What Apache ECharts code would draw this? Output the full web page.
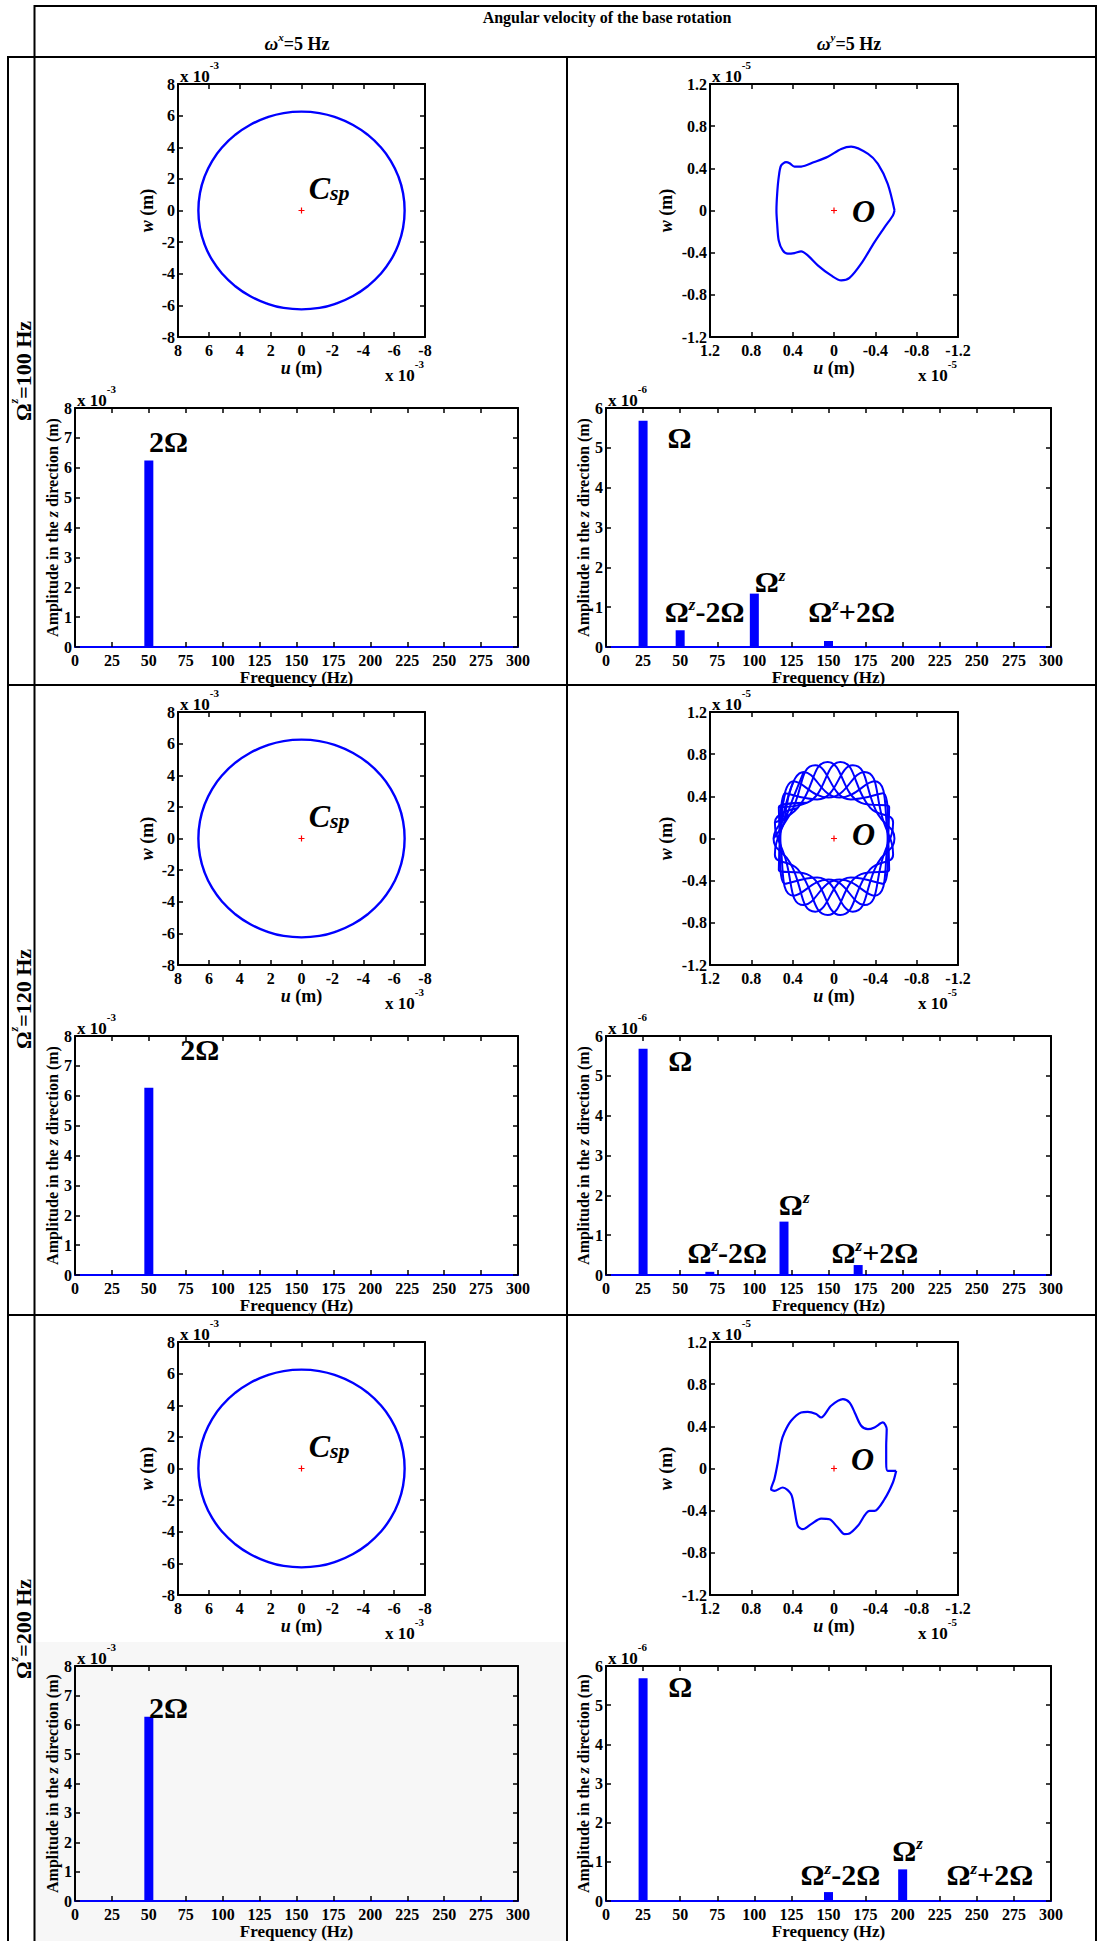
<!DOCTYPE html>
<html lang="en">
<head>
<meta charset="utf-8">
<title>Orbits and z-direction spectra under base rotation</title>
<script src="https://cdn.jsdelivr.net/npm/echarts@6/dist/echarts.min.js"></script>
<style>
  html, body { margin: 0; padding: 0; background: #ffffff; }
  #chart { width: 1098px; height: 1941px; }
</style>
</head>
<body>
<div id="chart"></div>
<script>
// ---------------- values ----------------
// Ω^z of each table row (Hz)
const spinSpeeds = [100, 120, 200];

// Axis ranges [min, max, step]
const orbitXRange = [-8, 8, 2];        // ×10^-3 m (ωx column)
const orbitYRange = [-1.2, 1.2, 0.4];  // ×10^-5 m (ωy column)
const freqRange = [0, 300, 25];        // Hz
const ampXRange = [0, 8, 1];           // ×10^-3 m
const ampYRange = [0, 6, 1];           // ×10^-6 m

// ωx = 5 Hz: orbit (u, w), ×10^-3 m; the same ring at all three spin speeds
const orbitCircleX = [
  [6.68, 0], [6.58, 1.09], [6.28, 2.14], [5.79, 3.13], [5.12, 4.02], [4.29, 4.79], [3.34, 5.41],
  [2.28, 5.87], [1.16, 6.16], [0, 6.25], [-1.16, 6.16], [-2.28, 5.87], [-3.34, 5.41], [-4.29, 4.79],
  [-5.12, 4.02], [-5.79, 3.13], [-6.28, 2.14], [-6.58, 1.09], [-6.68, 0], [-6.58, -1.09], [-6.28, -2.14],
  [-5.79, -3.13], [-5.12, -4.02], [-4.29, -4.79], [-3.34, -5.41], [-2.28, -5.87], [-1.16, -6.16],
  [0, -6.25], [1.16, -6.16], [2.28, -5.87], [3.34, -5.41], [4.29, -4.79], [5.12, -4.02], [5.79, -3.13],
  [6.28, -2.14], [6.58, -1.09], [6.68, 0], [6.58, 1.09]
];

// ωy = 5 Hz, Ω^z = 100 Hz: orbit (u, w), ×10^-5 m
const orbitY100 = [
  [-0.586, 0.0], [-0.52, 0.253], [-0.425, 0.442], [-0.33, 0.537], [-0.166, 0.606], [-0.07, 0.584],
  [0.06, 0.51], [0.19, 0.46], [0.318, 0.417], [0.383, 0.417], [0.43, 0.449], [0.464, 0.458],
  [0.512, 0.426], [0.535, 0.316], [0.55, 0.158], [0.557, 0.0], [0.55, -0.126], [0.535, -0.284],
  [0.496, -0.379], [0.447, -0.41], [0.383, -0.404], [0.318, -0.388], [0.254, -0.426], [0.157, -0.52],
  [0.028, -0.616], [-0.07, -0.663], [-0.15, -0.64], [-0.263, -0.505], [-0.392, -0.3], [-0.49, -0.158],
  [-0.57, -0.047], [-0.586, 0.0]
];

// ωy = 5 Hz, Ω^z = 120 Hz: the orbit winds round six times, swinging between
// the inner and outer edge of the band (×10^-5 m)
const orbitY120 = [
  [[0.585, 0], [0.425, 0.229], [0.181, 0.694], [-0.162, 0.371], [-0.473, 0.429], [-0.525, 0],
   [-0.473, -0.429], [-0.162, -0.371], [0.181, -0.694], [0.425, -0.229], [0.585, 0], [0.425, 0.229]],
  [[0.572, 0.152], [0.351, 0.290], [0.061, 0.726], [-0.263, 0.338], [-0.534, 0.297], [-0.514, -0.081],
   [-0.391, -0.542], [-0.055, -0.388], [0.293, -0.632], [0.480, -0.159], [0.572, 0.152], [0.351, 0.290]],
  [[0.534, 0.297], [0.263, 0.338], [-0.061, 0.726], [-0.351, 0.290], [-0.572, 0.152], [-0.480, -0.159],
   [-0.293, -0.632], [0.055, -0.388], [0.391, -0.542], [0.514, -0.081], [0.534, 0.297], [0.263, 0.338]],
  [[0.525, 0], [0.473, 0.429], [0.162, 0.371], [-0.181, 0.694], [-0.425, 0.229], [-0.585, 0],
   [-0.425, -0.229], [-0.181, -0.694], [0.162, -0.371], [0.473, -0.429], [0.525, 0], [0.473, 0.429]],
  [[0.514, 0.081], [0.391, 0.542], [0.055, 0.388], [-0.293, 0.632], [-0.480, 0.159], [-0.572, -0.152],
   [-0.351, -0.290], [-0.061, -0.726], [0.263, -0.338], [0.534, -0.297], [0.514, 0.081], [0.391, 0.542]],
  [[0.480, 0.159], [0.293, 0.632], [-0.055, 0.388], [-0.391, 0.542], [-0.514, 0.081], [-0.534, -0.297],
   [-0.263, -0.338], [0.061, -0.726], [0.351, -0.290], [0.572, -0.152], [0.480, 0.159], [0.293, 0.632]]
];

// ωy = 5 Hz, Ω^z = 200 Hz: orbit (u, w), ×10^-5 m
const orbitY200 = [
  [-0.602, -0.022], [-0.52, -0.022], [-0.505, 0.057], [-0.505, 0.215], [-0.51, 0.373], [-0.473, 0.437],
  [-0.392, 0.39], [-0.328, 0.373], [-0.263, 0.405], [-0.2, 0.532], [-0.15, 0.627], [-0.086, 0.658],
  [0.028, 0.595], [0.125, 0.484], [0.173, 0.516], [0.254, 0.538], [0.318, 0.532], [0.415, 0.453],
  [0.48, 0.342], [0.512, 0.247], [0.544, 0.057], [0.577, -0.101], [0.609, -0.196], [0.577, -0.212],
  [0.496, -0.18], [0.415, -0.244], [0.383, -0.386], [0.35, -0.544], [0.302, -0.576], [0.221, -0.528],
  [0.125, -0.475], [0.044, -0.481], [-0.037, -0.56], [-0.102, -0.623], [-0.15, -0.617], [-0.231, -0.544],
  [-0.344, -0.402], [-0.392, -0.402], [-0.489, -0.291], [-0.57, -0.133], [-0.602, -0.022]
];

// Shaft centre / origin marker
const orbitCentre = [0, 0];

// Amplitude spectra in the z direction: [frequency Hz, amplitude]
const specX100 = [[50, 6.24]];   // ×10^-3 m
const specX120 = [[50, 6.27]];
const specX200 = [[50, 6.27]];
const specY100 = [[25, 5.68], [50, 0.42], [100, 1.34], [150, 0.15]];   // ×10^-6 m
const specY120 = [[25, 5.68], [70, 0.08], [120, 1.34], [170, 0.25]];
const specY200 = [[25, 5.69], [150, 0.23], [200, 0.81]];

// Peak names: [text, frequency, amplitude]; ^ marks a superscript, _ a subscript
const notesX100 = [['2Ω', 49.7, 6.87]];
const notesX120 = [['2Ω', 71, 7.55]];
const notesX200 = [['2Ω', 49.7, 6.58]];
const notesY100 = [['Ω', 41.1, 5.25], ['Ω^z-2Ω', 39.3, 0.9], ['Ω^z', 100, 1.64], ['Ω^z+2Ω', 136, 0.9]];
const notesY120 = [['Ω', 41.6, 5.39], ['Ω^z-2Ω', 54.6, 0.57], ['Ω^z', 116.2, 1.78], ['Ω^z+2Ω', 151.7, 0.57]];
const notesY200 = [['Ω', 41.6, 5.48], ['Ω^z-2Ω', 130.8, 0.67], ['Ω^z', 192.6, 1.3], ['Ω^z+2Ω', 229.2, 0.67]];

// Point names inside the orbit plots: [text, u, w]
const centreNoteX = [['C_sp', -0.43, 1.45]];
const centreNotesY = [[['O', -0.17, 0.0]], [['O', -0.17, 0.04]], [['O', -0.16, 0.086]]];

// ---------------- drawing ----------------
const SERIF = '"Liberation Serif", "Times New Roman", serif';
const BLUE = '#0000ff';
const BLACK = '#000000';

const layout = {
  rowTops: [57, 685, 1315],
  rowHeight: 628,
  orbitL: { left: 178, top: 27, width: 247, height: 253, yNameGap: 22 },
  orbitR: { left: 710, top: 27, width: 248, height: 253, yNameGap: 35 },
  specL: { left: 75, top: 351, width: 443, height: 239, yNameGap: 15 },
  specR: { left: 606, top: 351, width: 445, height: 239, yNameGap: 13 }
};

const option = {
  animation: false,
  backgroundColor: '#ffffff',
  grid: [], xAxis: [], yAxis: [], series: [],
  graphic: { elements: [] }
};
const G = option.graphic.elements;

const tickLabel = { fontFamily: SERIF, fontWeight: 'bold', fontSize: 16, color: BLACK };
const innerTick = { show: true, inside: true, length: 5, lineStyle: { color: BLACK, width: 1.5 } };
const fmtInt = v => String(Math.round(v));
const fmtTenth = v => { const r = Math.round(v * 10) / 10; return r === 0 ? '0' : String(r); };

function nameStyle(size) {
  return {
    fontFamily: SERIF, fontWeight: 'bold', fontSize: size, color: BLACK,
    rich: { i: { fontFamily: SERIF, fontWeight: 'bold', fontStyle: 'italic', fontSize: size, color: BLACK } }
  };
}

function addPanel(box, rowTop, c) {
  const gridIndex = option.grid.length;
  option.grid.push({ left: box.left, top: rowTop + box.top, width: box.width, height: box.height, show: false });
  const xi = option.xAxis.length;
  const yi = option.yAxis.length;
  const frame = color => ({ show: true, onZero: false, lineStyle: { color: color, width: 2 } });
  option.xAxis.push({
    gridIndex, type: 'value', position: 'bottom', min: c.x[0], max: c.x[1], interval: c.x[2], inverse: !!c.xInverse,
    axisLine: frame(c.base || BLACK), axisTick: innerTick, splitLine: { show: false },
    axisLabel: Object.assign({ margin: 5, formatter: c.fmtX }, tickLabel),
    name: c.xName, nameLocation: 'middle', nameGap: c.xNameGap, nameTextStyle: nameStyle(c.xNameSize)
  });
  option.xAxis.push({
    gridIndex, type: 'value', position: 'top', min: c.x[0], max: c.x[1], interval: c.x[2], inverse: !!c.xInverse,
    axisLine: frame(BLACK), axisTick: innerTick, splitLine: { show: false }, axisLabel: { show: false }
  });
  option.yAxis.push({
    gridIndex, type: 'value', position: 'left', min: c.y[0], max: c.y[1], interval: c.y[2],
    axisLine: frame(BLACK), axisTick: innerTick, splitLine: { show: false },
    axisLabel: Object.assign({ margin: 3, formatter: c.fmtY }, tickLabel),
    name: c.yName, nameLocation: 'middle', nameGap: box.yNameGap, nameTextStyle: nameStyle(c.yNameSize)
  });
  option.yAxis.push({
    gridIndex, type: 'value', position: 'right', min: c.y[0], max: c.y[1], interval: c.y[2],
    axisLine: frame(BLACK), axisTick: innerTick, splitLine: { show: false }, axisLabel: { show: false }
  });
  return { xi, yi };
}

function markup(t, base) {
  let out = '';
  t.replace(/([\^_])([A-Za-z]+)|([^\^_]+)/g, (m, mark, word, plain) => {
    out += plain ? '{' + base + '|' + plain + '}' : '{' + (mark === '^' ? 'sup' : 'sub') + '|' + word + '}';
    return m;
  });
  return out;
}

function noteRich(size) {
  const f = (extra) => Object.assign({ fontFamily: SERIF, fontWeight: 'bold', color: BLACK, textBorderWidth: 0, opacity: 1 }, extra);
  return {
    b: f({ fontSize: size, lineHeight: size, verticalAlign: 'bottom' }),
    c: f({ fontSize: size, lineHeight: size, verticalAlign: 'bottom', fontStyle: 'italic' }),
    sup: f({ fontSize: Math.round(size * 0.55), lineHeight: Math.round(size * 0.55), verticalAlign: 'top', fontStyle: 'italic' }),
    sub: f({ fontSize: Math.round(size * 0.68), lineHeight: Math.round(size * 0.58), verticalAlign: 'bottom', fontStyle: 'italic' })
  };
}

function addNotes(ax, notes, size, base) {
  option.series.push({
    type: 'scatter', xAxisIndex: ax.xi, yAxisIndex: ax.yi, silent: true, z: 6,
    symbolSize: 1, itemStyle: { color: 'rgba(0,0,0,0)', opacity: 1 },
    data: notes.map(n => ({ value: [n[1], n[2]], name: n[0] })),
    label: {
      show: true, position: 'right', distance: 0, color: BLACK, opacity: 1, textBorderWidth: 0,
      formatter: p => markup(p.name, base), rich: noteRich(size)
    }
  });
}

function addCentre(ax) {
  option.series.push({
    type: 'scatter', xAxisIndex: ax.xi, yAxisIndex: ax.yi, silent: true, z: 5,
    symbol: 'path://M0.4,0H0.6V0.4H1V0.6H0.6V1H0.4V0.6H0V0.4H0.4Z', symbolSize: 6,
    itemStyle: { color: '#ff0000', opacity: 1 }, data: [orbitCentre]
  });
}

function addPath(ax, path, smooth, width) {
  option.series.push({
    type: 'line', xAxisIndex: ax.xi, yAxisIndex: ax.yi, data: path, symbol: 'none', smooth: smooth,
    lineStyle: { color: BLUE, width: width }, z: 3, silent: true
  });
}

function addBars(ax, data) {
  option.series.push({
    type: 'bar', xAxisIndex: ax.xi, yAxisIndex: ax.yi, data: data, barWidth: 9,
    itemStyle: { color: BLUE }, z: 3, silent: true
  });
}

function multiplier(x, yMid, exp, align) {
  G.push({
    type: 'text', x: x, y: yMid - 4, z: 10,
    style: {
      text: '{m|x 10}{e|' + exp + '}', align: align, verticalAlign: 'middle', fill: BLACK,
      rich: {
        m: { fontFamily: SERIF, fontWeight: 'bold', fontSize: 17, lineHeight: 26, verticalAlign: 'bottom', fill: BLACK },
        e: { fontFamily: SERIF, fontWeight: 'bold', fontSize: 11, lineHeight: 12, verticalAlign: 'top', fill: BLACK }
      }
    }
  });
}

const orbitsY = [[orbitY100], orbitY120, [orbitY200]];
const specsX = [specX100, specX120, specX200];
const specsY = [specY100, specY120, specY200];
const notesX = [notesX100, notesX120, notesX200];
const notesY = [notesY100, notesY120, notesY200];

// light shading behind the last left-hand spectrum
G.push({ type: 'rect', z: -5, shape: { x: 35.5, y: 1642, width: 530.5, height: 299 }, style: { fill: '#f7f7f7' } });

layout.rowTops.forEach((top, r) => {
  // ωx column: orbit
  const oL = addPanel(layout.orbitL, top, {
    x: orbitXRange, y: orbitXRange, xInverse: true, fmtX: fmtInt, fmtY: fmtInt,
    xName: '{i|u} (m)', xNameGap: 22, xNameSize: 18, yName: '{i|w} (m)', yNameSize: 18
  });
  addPath(oL, orbitCircleX, true, 2.4);
  addCentre(oL);
  addNotes(oL, centreNoteX, 32, 'c');

  // ωy column: orbit
  const oR = addPanel(layout.orbitR, top, {
    x: orbitYRange, y: orbitYRange, xInverse: true, fmtX: fmtTenth, fmtY: fmtTenth,
    xName: '{i|u} (m)', xNameGap: 22, xNameSize: 18, yName: '{i|w} (m)', yNameSize: 18
  });
  orbitsY[r].forEach(p => addPath(oR, p, r === 1 ? 0.5 : 0.3, r === 1 ? 2 : 2.2));
  addCentre(oR);
  addNotes(oR, centreNotesY[r], 32, 'c');

  // ωx column: spectrum
  const sL = addPanel(layout.specL, top, {
    x: freqRange, y: ampXRange, fmtX: fmtInt, fmtY: fmtInt, base: BLUE,
    xName: 'Frequency (Hz)', xNameGap: 20, xNameSize: 17,
    yName: 'Amplitude in the {i|z} direction (m)', yNameSize: 16
  });
  addBars(sL, specsX[r]);
  addNotes(sL, notesX[r], 30, 'b');

  // ωy column: spectrum
  const sR = addPanel(layout.specR, top, {
    x: freqRange, y: ampYRange, fmtX: fmtInt, fmtY: fmtInt, base: BLUE,
    xName: 'Frequency (Hz)', xNameGap: 20, xNameSize: 17,
    yName: 'Amplitude in the {i|z} direction (m)', yNameSize: 16
  });
  addBars(sR, specsY[r]);
  addNotes(sR, notesY[r], 30, 'b');

  // scale multipliers
  const L = layout;
  multiplier(L.orbitL.left + 2, top + L.orbitL.top - 8, '-3', 'left');
  multiplier(L.orbitL.left + L.orbitL.width - 1, top + L.orbitL.top + L.orbitL.height + 38, '-3', 'right');
  multiplier(L.orbitR.left + 2, top + L.orbitR.top - 8, '-5', 'left');
  multiplier(L.orbitR.left + L.orbitR.width - 1, top + L.orbitR.top + L.orbitR.height + 38, '-5', 'right');
  multiplier(L.specL.left + 2, top + L.specL.top - 8, '-3', 'left');
  multiplier(L.specR.left + 2, top + L.specR.top - 8, '-6', 'left');

  // row heading: Ω^z = … Hz
  G.push({
    type: 'text', x: 21, y: top + L.rowHeight / 2, rotation: Math.PI / 2, z: 10,
    style: {
      text: '{o|Ω}{s|z}{t|=' + spinSpeeds[r] + ' Hz}', align: 'center', verticalAlign: 'middle', fill: BLACK,
      rich: {
        o: { fontFamily: SERIF, fontWeight: 'bold', fontSize: 22, lineHeight: 26, verticalAlign: 'bottom', fill: BLACK },
        s: { fontFamily: SERIF, fontWeight: 'bold', fontStyle: 'italic', fontSize: 12, lineHeight: 12, verticalAlign: 'top', fill: BLACK },
        t: { fontFamily: SERIF, fontWeight: 'bold', fontSize: 22, lineHeight: 26, verticalAlign: 'bottom', fill: BLACK }
      }
    }
  });
});

// table rules
const rules = [
  [34.5, 6, 1097, 6], [34.5, 5, 34.5, 1941], [8, 57, 1097, 57], [8, 56, 8, 1941],
  [1096, 5, 1096, 1941], [567, 56, 567, 1941], [8, 685, 1097, 685], [8, 1315, 1097, 1315]
];
rules.forEach(l => G.push({
  type: 'line', z: 8, shape: { x1: l[0], y1: l[1], x2: l[2], y2: l[3] }, style: { stroke: BLACK, lineWidth: 2 }
}));

// header
G.push({
  type: 'text', x: 607, y: 17, z: 10,
  style: { text: 'Angular velocity of the base rotation', fontFamily: SERIF, fontWeight: 'bold', fontSize: 16, fill: BLACK, align: 'center', verticalAlign: 'middle' }
});
[['x', 297], ['y', 849]].forEach(([axis, x]) => G.push({
  type: 'text', x: x, y: 42, z: 10,
  style: {
    text: '{w|ω}{s|' + axis + '}{t|=5 Hz}', align: 'center', verticalAlign: 'middle', fill: BLACK,
    rich: {
      w: { fontFamily: SERIF, fontStyle: 'italic', fontWeight: 'bold', fontSize: 19, lineHeight: 22, verticalAlign: 'bottom', fill: BLACK },
      s: { fontFamily: SERIF, fontStyle: 'italic', fontWeight: 'bold', fontSize: 11, lineHeight: 11, verticalAlign: 'top', fill: BLACK },
      t: { fontFamily: SERIF, fontWeight: 'bold', fontSize: 18, lineHeight: 22, verticalAlign: 'bottom', fill: BLACK }
    }
  }
}));

const chart = echarts.init(document.getElementById('chart'), null, { renderer: 'svg', width: 1098, height: 1941 });
chart.setOption(option);
</script>
</body>
</html>
